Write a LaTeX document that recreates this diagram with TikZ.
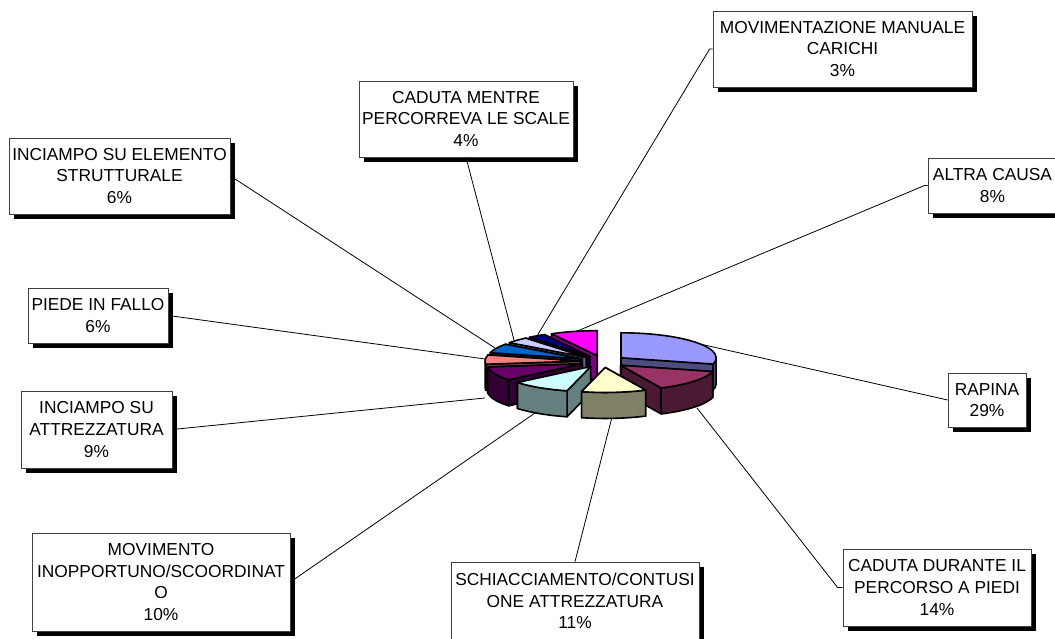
\documentclass[tikz,border=0pt]{standalone}
\usepackage{fontspec}
\setmainfont{Liberation Sans}
\usetikzlibrary{shadows}

\definecolor{colRapina}{HTML}{9999FF}
\definecolor{colCaduta}{HTML}{993366}
\definecolor{colSchiacc}{HTML}{FFFFCC}
\definecolor{colInopp}{HTML}{CCFFFF}
\definecolor{colAttrezz}{HTML}{660066}
\definecolor{colPiede}{HTML}{FF8080}
\definecolor{colStrutt}{HTML}{0066CC}
\definecolor{colScale}{HTML}{CCCCFF}
\definecolor{colMovim}{HTML}{000080}
\definecolor{colAltra}{HTML}{FF00FF}

\tikzset{
  pieline/.style={draw=black, line width=1.2pt, line join=round},
  label box/.style={draw=black!75, line width=0.6pt, fill=white, align=center, inner sep=1pt,
    font=\fontsize{13}{16.3}\selectfont,
    drop shadow={shadow xshift=3.75pt, shadow yshift=-3.75pt, opacity=1, fill=black}},
  leader/.style={draw=black, line width=0.6pt}
}

% radial cut of a slice: angle, colour
\newcommand{\cutface}[2]{%
  \filldraw[pieline, fill=#2] (0,0) -- (#1:95 and 25) -- ++(0,-26) -- (0,-26) -- cycle;}

% one exploded slice: start angle, end angle, colour
\newcommand{\pieslice}[3]{%
  \pgfmathsetmacro{\pmid}{(#1+#2)/2}
  \begin{scope}[shift={({23*cos(\pmid)},{6*sin(\pmid)})}]
    \pgfmathparse{cos(#1)}
    \ifdim\pgfmathresult pt>0pt
      \cutface{#2}{#3!50!black}\cutface{#1}{#3!50!black}
    \else
      \cutface{#1}{#3!50!black}\cutface{#2}{#3!50!black}
    \fi
    \pgfmathsetmacro{\pfa}{max(#1,-180)}
    \pgfmathsetmacro{\pfb}{min(#2,0)}
    \ifdim\pfa pt<\pfb pt
      \filldraw[pieline, fill=#3!50!black] (\pfa:95 and 25)
        arc[start angle=\pfa, end angle=\pfb, x radius=95, y radius=25] -- ++(0,-26)
        arc[start angle=\pfb, end angle=\pfa, x radius=95, y radius=25] -- cycle;
    \fi
    \filldraw[pieline, fill=#3] (0,0) -- (#1:95 and 25)
      arc[start angle=#1, end angle=#2, x radius=95, y radius=25] -- cycle;
  \end{scope}}

\begin{document}
\begin{tikzpicture}[x=0.75pt, y=0.75pt]
\useasboundingbox (0,0) rectangle (1055,638);

% labels
\node[label box, minimum width=194.25pt, minimum height=57pt] (movim) at (842.5,589) {MOVIMENTAZIONE MANUALE\\CARICHI\\3\%};
\node[label box, minimum width=160.5pt, minimum height=57pt] (scale) at (466,519) {CADUTA MENTRE\\PERCORREVA LE SCALE\\4\%};
\node[label box, minimum width=165.75pt, minimum height=57pt] (strutt) at (119.5,462) {INCIAMPO SU ELEMENTO\\STRUTTURALE\\6\%};
\node[label box, minimum width=96.75pt, minimum height=41.25pt] (altra) at (992.5,452.5) {ALTRA CAUSA\\8\%};
\node[label box, minimum width=105pt, minimum height=41.25pt] (piede) at (98,322.5) {PIEDE IN FALLO\\6\%};
\node[label box, minimum width=58.5pt, minimum height=40.5pt] (rapina) at (987,238) {RAPINA\\29\%};
\node[label box, minimum width=113.25pt, minimum height=57.75pt] (attrezz) at (96.5,208.5) {INCIAMPO SU\\ATTREZZATURA\\9\%};
\node[label box, minimum width=193.5pt, minimum height=73.5pt] (inopp) at (161,56) {MOVIMENTO\\INOPPORTUNO/SCOORDINAT\\O\\10\%};
\node[label box, minimum width=186pt, minimum height=58.5pt] (schiacc) at (575,37) {SCHIACCIAMENTO/CONTUSI\\ONE ATTREZZATURA\\11\%};
\node[label box, minimum width=141pt, minimum height=57.75pt] (percorso) at (937,50.5) {CADUTA DURANTE IL\\PERCORSO A PIEDI\\14\%};

% leader lines
\coordinate (p-movim) at (537,302);
\coordinate (p-scale) at (514,298);
\coordinate (p-strutt) at (495,290);
\coordinate (p-altra) at (575,306);
\coordinate (p-piede) at (485,279);
\coordinate (p-attrezz) at (485,240);
\coordinate (p-rapina) at (700,294);
\coordinate (p-inopp) at (535,225);
\coordinate (p-schiacc) at (612,221);
\coordinate (p-percorso) at (697,230);
\draw[leader] (movim.west) -- ++(-3,0) -- (p-movim);
\draw[leader] (scale.south) -- (p-scale);
\draw[leader] (strutt.east) -- (p-strutt);
\draw[leader] (altra.west) -- ++(-3,0) -- (p-altra);
\draw[leader] (piede.east) -- (p-piede);
\draw[leader] (attrezz.east) -- (p-attrezz);
\draw[leader] (rapina.west) -- (p-rapina);
\draw[leader] (inopp.east) -- (p-inopp);
\draw[leader] (schiacc.north) -- (p-schiacc);
\draw[leader] (percorso.west) -- ++(-5,0) -- (p-percorso);

% pie, back slices first
\begin{scope}[shift={(603,276.5)}]
  \pieslice{-270}{-241.2}{colAltra}
  \pieslice{-241.2}{-230.4}{colMovim}
  \pieslice{-230.4}{-216}{colScale}
  \pieslice{-14.4}{90}{colRapina}
  \pieslice{-216}{-194.4}{colStrutt}
  \pieslice{-194.4}{-172.8}{colPiede}
  \pieslice{-172.8}{-140.4}{colAttrezz}
  \pieslice{-64.8}{-14.4}{colCaduta}
  \pieslice{-140.4}{-104.4}{colInopp}
  \pieslice{-104.4}{-64.8}{colSchiacc}
\end{scope}
\end{tikzpicture}
\end{document}
